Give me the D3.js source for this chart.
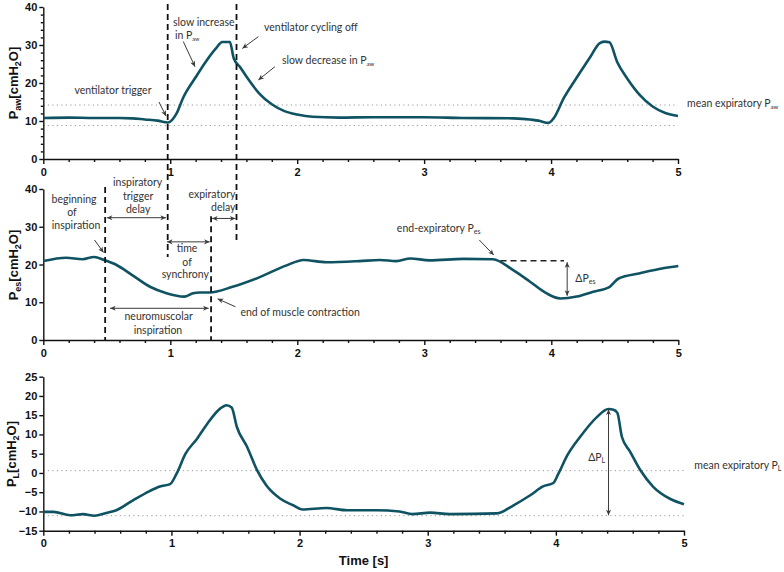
<!DOCTYPE html>
<html><head><meta charset="utf-8">
<script src="https://cdn.jsdelivr.net/npm/d3@7"></script>
<style>
body{margin:0;background:#fff;}
svg{display:block;}
.tick text{font-family:"Liberation Sans",Arial,sans-serif;font-weight:bold;font-size:11px;fill:#111;}
.ann{font-family:Lato,"Open Sans",sans-serif;font-size:10.5px;fill:#333;}
.ylab{font-family:"Liberation Sans",Arial,sans-serif;font-weight:bold;font-size:13px;fill:#111;}
</style></head>
<body>
<svg id="c" width="784" height="572"></svg>
<script>
// ---- data ----
const timeTicks = [0, 1, 2, 3, 4, 5];
const pawTicks = [0, 10, 20, 30, 40];
const pesTicks = [0, 10, 20, 30, 40];
const plTicks = [-15, -10, -5, 0, 5, 10, 15, 20, 25];

const pawTime = [0, 0.2, 0.4, 0.6, 0.7, 0.8, 0.9, 0.98, 1.05, 1.1, 1.2, 1.28, 1.36, 1.41, 1.47, 1.50, 1.55, 1.6, 1.7, 1.8, 1.9, 2.0, 2.12, 2.33, 2.6, 3.0, 3.3, 3.7, 3.8, 3.9, 3.98, 4.02, 4.1, 4.2, 4.31, 4.38, 4.42, 4.46, 4.52, 4.6, 4.7, 4.8, 4.9, 5.0];
const pawValue = [10.8, 10.9, 10.8, 10.8, 10.7, 10.4, 10.1, 9.6, 12.0, 16.0, 21.5, 25.6, 29.1, 30.8, 30.8, 26.5, 24.2, 21.7, 17.3, 14.4, 12.6, 11.7, 11.1, 10.9, 11.0, 11.0, 10.8, 10.7, 10.5, 10.1, 9.5, 10.7, 16.0, 21.3, 26.9, 30.4, 30.9, 30.7, 25.6, 21.2, 16.8, 13.8, 12.1, 11.3];

const pesTime = [0, 0.18, 0.31, 0.40, 0.48, 0.57, 0.70, 0.84, 0.97, 1.11, 1.18, 1.23, 1.31, 1.49, 1.70, 1.91, 2.05, 2.23, 2.49, 2.65, 2.78, 2.89, 3.04, 3.31, 3.54, 3.70, 3.83, 3.96, 4.07, 4.20, 4.33, 4.46, 4.53, 4.70, 4.88, 5.0];
const pesValue = [20.9, 21.8, 21.4, 22.0, 21.2, 20.0, 17.2, 14.1, 12.4, 11.5, 12.4, 12.6, 12.6, 14.1, 16.6, 19.7, 21.2, 20.6, 20.9, 21.2, 20.9, 21.6, 21.1, 21.5, 21.4, 18.5, 15.5, 12.4, 11.0, 11.5, 12.8, 14.1, 16.3, 17.7, 19.0, 19.6];

const plTime = [0, 0.08, 0.21, 0.31, 0.40, 0.49, 0.57, 0.70, 0.83, 0.91, 0.99, 1.04, 1.11, 1.20, 1.28, 1.38, 1.43, 1.47, 1.51, 1.59, 1.67, 1.74, 1.85, 1.95, 2.02, 2.21, 2.37, 2.60, 2.78, 2.88, 3.02, 3.17, 3.54, 3.67, 3.80, 3.90, 3.98, 4.02, 4.09, 4.19, 4.32, 4.41, 4.45, 4.48, 4.515, 4.58, 4.66, 4.76, 4.89, 5.0];
const plValue = [-10.1, -10.1, -11.0, -10.7, -11.1, -10.4, -9.7, -7.1, -4.7, -3.5, -2.9, -0.2, 5.0, 8.9, 12.8, 16.7, 17.6, 17.0, 12.0, 6.8, 0.6, -3.2, -6.7, -8.4, -9.5, -9.1, -9.7, -9.7, -10.0, -10.7, -10.3, -10.7, -10.5, -8.4, -5.8, -3.5, -2.6, -0.2, 4.6, 9.4, 14.5, 16.6, 16.4, 15.6, 9.4, 5.5, 0.7, -3.6, -6.7, -8.1];

const pawDotted = [14.2, 8.8];
const plDotted = [0.6, -11.1];

// ---- layout ----
const svg = d3.select("#c");
const lineColor = "#0f5363";
const annColor = "#3a3a3a";

const panels = [
  {key:"paw", t:pawTime, v:pawValue, x:[43.3,678], y:[159,7], dom:[0,40], ticks:pawTicks, minor:d3.range(0,41,2), dotted:pawDotted},
  {key:"pes", t:pesTime, v:pesValue, x:[43.3,678.3], y:[340,189], dom:[0,40], ticks:pesTicks, minor:[], dotted:[]},
  {key:"pl", t:plTime, v:plValue, x:[43.3,684], y:[530.7,376.7], dom:[-15,25], ticks:plTicks, minor:[], dotted:plDotted}
];
panels.forEach(p => {
  p.xs = d3.scaleLinear().domain([0,5]).range(p.x);
  p.ys = d3.scaleLinear().domain(p.dom).range(p.y);
});
const P = {}; panels.forEach(p => P[p.key] = p);

const defs = svg.append("defs");
defs.append("marker").attr("id","ah").attr("viewBox","-8 -5 10 10").attr("refX",0).attr("refY",0)
  .attr("markerWidth",8).attr("markerHeight",8).attr("markerUnits","userSpaceOnUse")
  .attr("orient","auto-start-reverse")
  .append("path").attr("d","M0,0 L-7,-3.2 L-5,0 L-7,3.2 Z").attr("fill",annColor);

panels.forEach(p => {
  const g = svg.append("g");
  p.dotted.forEach(d => {
    g.append("line").attr("x1",p.xs(0)).attr("x2",p.xs(5)).attr("y1",p.ys(d)).attr("y2",p.ys(d))
      .attr("stroke","#9a9a9a").attr("stroke-width",1).attr("stroke-dasharray","1.2,3.3");
  });
  g.append("g").attr("transform",`translate(0,${p.ys(p.dom[0])})`)
    .call(d3.axisBottom(p.xs).tickValues(timeTicks).tickFormat(d3.format("d")).tickSize(5).tickSizeOuter(0).tickPadding(4));
  g.append("g").attr("transform",`translate(0,${p.ys(p.dom[0])})`)
    .call(d3.axisBottom(p.xs).tickValues(d3.range(0,5.01,0.2).filter(d=>Math.abs(d-Math.round(d))>0.01)).tickFormat("").tickSize(3).tickSizeOuter(0))
    .select(".domain").remove();
  g.append("g").attr("transform",`translate(${p.xs(0)},0)`)
    .call(d3.axisLeft(p.ys).tickValues(p.ticks).tickFormat(d3.format("d")).tickSize(4).tickSizeOuter(0).tickPadding(2));
  if (p.minor.length) {
    g.append("g").attr("transform",`translate(${p.xs(0)},0)`)
      .call(d3.axisLeft(p.ys).tickValues(p.minor.filter(d=>!p.ticks.includes(d))).tickFormat("").tickSize(2.5).tickSizeOuter(0))
      .select(".domain").remove();
  }
  g.selectAll(".domain, .tick line").attr("stroke","#111").attr("stroke-width",1.4);
  const pts = p.t.map((t,i)=>[t,p.v[i]]);
  g.append("path").datum(pts)
    .attr("d", d3.line().x(d=>p.xs(d[0])).y(d=>p.ys(d[1])).curve(d3.curveMonotoneX))
    .attr("fill","none").attr("stroke",lineColor).attr("stroke-width",2.6).attr("stroke-linejoin","round");
});

function ylab(cx, cy, sub) {
  const t = svg.append("text").attr("class","ylab").attr("text-anchor","middle")
    .attr("transform",`translate(${cx},${cy}) rotate(-90)`);
  t.append("tspan").text("P");
  t.append("tspan").attr("font-size","9px").attr("dy","3").text(sub);
  t.append("tspan").attr("dy","-3").text("[cmH");
  t.append("tspan").attr("font-size","9px").attr("dy","3").text("2");
  t.append("tspan").attr("dy","-3").text("O]");
}
ylab(18, 83, "aw");
ylab(18, 265, "es");
ylab(16, 454, "L");

svg.append("text").attr("class","ylab").attr("font-size","12px").attr("text-anchor","middle")
  .attr("x", P.pl.xs(2.5)).attr("y", 565).text("Time [s]");

// ---- annotations ----
const A = svg.append("g");
function vdash(x, p1, v1, p2, v2) {
  A.append("line").attr("x1",P[p1].xs(x)).attr("x2",P[p1].xs(x)).attr("y1",P[p1].ys(v1)).attr("y2",P[p2].ys(v2))
    .attr("stroke","#111").attr("stroke-width",1.8).attr("stroke-dasharray","6,4");
}
vdash(0.98, "paw", 40.8, "pes", 22.0);
vdash(1.522, "paw", 40.8, "pes", 25.6);
vdash(0.487, "pes", 40.5, "pes", 0);
vdash(1.321, "pes", 32.8, "pes", 0);
A.append("line").attr("x1",P.pes.xs(3.60)).attr("x2",P.pes.xs(4.10)).attr("y1",P.pes.ys(21.0)).attr("y2",P.pes.ys(21.0))
  .attr("stroke","#222").attr("stroke-width",1.6).attr("stroke-dasharray","6,4");

function arrow(p, t1, v1, t2, v2, both) {
  const l = A.append("line").attr("x1",P[p].xs(t1)).attr("y1",P[p].ys(v1)).attr("x2",P[p].xs(t2)).attr("y2",P[p].ys(v2))
    .attr("stroke",annColor).attr("stroke-width",1).attr("marker-end","url(#ah)");
  if (both) l.attr("marker-start","url(#ah)");
}
function label(p, t, v, parts, anchor) {
  const tx = A.append("text").attr("class","ann").attr("x",P[p].xs(t)).attr("y",P[p].ys(v)).attr("text-anchor",anchor||"start");
  parts.forEach(s => {
    if (typeof s === "string") tx.append("tspan").text(s);
    else tx.append("tspan").attr("font-size",s.size||"7px").attr("dy",s.dy).text(s.sub);
  });
}

label("paw", 0.549, 17.0, ["ventilator trigger"], "middle");
arrow("paw", 0.911, 15.0, 0.967, 11.3);
label("paw", 1.022, 34.9, ["slow increase"]);
A.append("text").attr("class","ann").attr("font-size","8.5px").attr("x",P.paw.xs(1.037)).attr("y",P.paw.ys(31.6))
  .call(t=>{t.append("tspan").text("in P"); t.append("tspan").attr("font-size","5.5px").attr("dy","2").text("aw");});
arrow("paw", 1.103, 30.9, 1.195, 24.3);
label("paw", 1.739, 33.8, ["ventilator cycling off"]);
arrow("paw", 1.694, 32.2, 1.568, 29.1);
label("paw", 1.880, 24.9, ["slow decrease in P", {sub:"aw", dy:"2", size:"6px"}]);
arrow("paw", 1.825, 24.3, 1.694, 20.8);
label("paw", 5.071, 13.7, ["mean expiratory P", {sub:"aw", dy:"2", size:"6px"}]);

label("pes", 0.242, 36.2, ["beginning"], "middle");
label("pes", 0.226, 32.8, ["of"], "middle");
label("pes", 0.258, 29.4, ["inspiration"], "middle");
arrow("pes", 0.403, 26.5, 0.474, 23.2);
label("pes", 0.743, 40.7, ["inspiratory"], "middle");
label("pes", 0.747, 37.1, ["trigger"], "middle");
label("pes", 0.747, 33.6, ["delay"], "middle");
arrow("pes", 0.500, 32.4, 0.966, 32.4, true);
label("pes", 1.513, 37.7, ["expiratory"], "end");
label("pes", 1.513, 34.2, ["delay"], "end");
arrow("pes", 1.329, 32.2, 1.513, 32.2, true);
label("pes", 1.132, 23.3, ["time"], "middle");
label("pes", 1.132, 19.7, ["of"], "middle");
label("pes", 1.118, 16.3, ["synchrony"], "middle");
arrow("pes", 0.974, 26.0, 1.310, 26.0, true);
label("pes", 0.908, 5.3, ["neuromuscolar"], "middle");
label("pes", 0.903, 1.7, ["inspiration"], "middle");
arrow("pes", 0.526, 8.4, 1.302, 8.4, true);
label("pes", 1.552, 6.4, ["end of muscle contraction"]);
arrow("pes", 1.513, 8.8, 1.373, 10.9);
label("pes", 2.784, 28.6, ["end-expiratory P", {sub:"es", dy:"2", size:"7px"}]);
arrow("pes", 3.433, 26.5, 3.547, 22.5);
arrow("pes", 4.125, 20.6, 4.125, 11.7, true);
label("pes", 4.189, 15.4, ["ΔP", {sub:"es", dy:"2", size:"7px"}]);

arrow("pl", 4.411, 16.5, 4.411, -11.0, true);
label("pl", 4.252, 3.2, ["ΔP", {sub:"L", dy:"2", size:"7px"}]);
label("pl", 5.080, 1.0, ["mean expiratory P", {sub:"L", dy:"2", size:"7px"}]);
</script>
</body></html>
